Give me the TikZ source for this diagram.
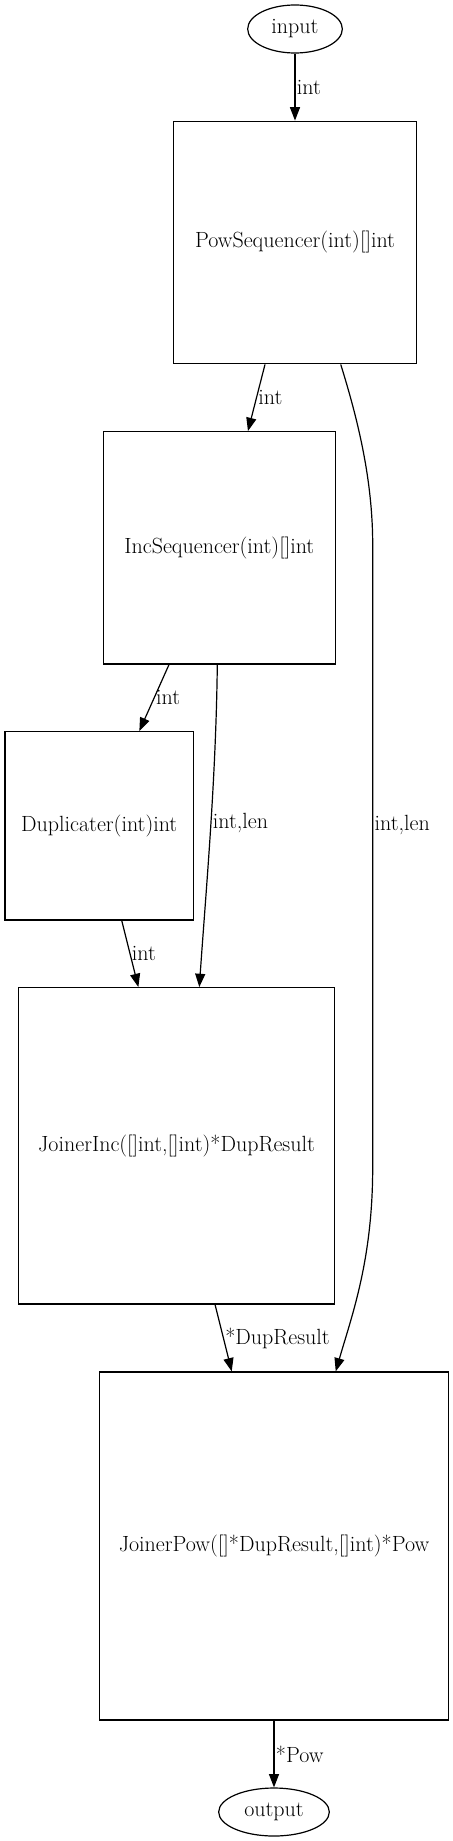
\documentclass[tikz,border=0pt]{standalone}
\usepackage{tikz}
\usetikzlibrary{arrows.meta,shapes.geometric,positioning}

\newcommand{\gvfont}{\fontsize{16.5}{19}\selectfont}

\begin{document}
\begin{tikzpicture}[x=0.75pt, y=-0.75pt,
    procbox/.style={draw, rectangle, line width=0.9pt, inner sep=0pt, font=\gvfont},
    portell/.style={draw, ellipse, line width=0.9pt, inner sep=0pt, font=\gvfont},
    flow/.style={line width=0.9pt, -{Triangle[length=10pt, width=7.5pt]}},
    flowlbl/.style={font=\gvfont, inner sep=1pt}]

\useasboundingbox (0,0) rectangle (453,1841);

% --- ports ----------------------------------------------------------------
\node[portell, minimum width=71pt, minimum height=36pt] (input) at (295,29) {input};
\node[portell, minimum width=83pt, minimum height=36pt] (output) at (274,1812) {output};

% --- stages ---------------------------------------------------------------
\node[procbox, minimum width=182pt, minimum height=182pt] (powseq) at (295,242.5)
  {PowSequencer(int)[]int};
\node[procbox, minimum width=174pt, minimum height=174.2pt] (incseq) at (219.3,547.8)
  {IncSequencer(int)[]int};
\node[procbox, minimum width=141.2pt, minimum height=141.2pt] (dup) at (99.2,825.8)
  {Duplicater(int)int};
\node[procbox, minimum width=237.2pt, minimum height=237.2pt] (joininc) at (176.5,1145.8)
  {JoinerInc([]int,[]int)*DupResult};
\node[procbox, minimum width=261.5pt, minimum height=261pt] (joinpow) at (274,1546)
  {JoinerPow([]*DupResult,[]int)*Pow};

% --- straight hops ----------------------------------------------------------
\draw[flow] (input) -- node[flowlbl, right, midway] {int} (powseq);
\draw[flow] ([xshift=-22.5pt]powseq.south) -- node[flowlbl, right, midway] {int}
  ([xshift=21.5pt]incseq.north);
\draw[flow] ([xshift=-37.7pt]incseq.south) -- node[flowlbl, right, midway] {int}
  ([xshift=30.1pt]dup.north);
\draw[flow] ([xshift=16.9pt]dup.south) -- node[flowlbl, right, midway] {int}
  ([xshift=-28.6pt]joininc.north);
\draw[flow] ([xshift=28.9pt]joininc.south) -- node[flowlbl, right, midway] {*DupResult}
  ([xshift=-31.7pt]joinpow.north);
\draw[flow] (joinpow) -- node[flowlbl, right, midway] {*Pow} (output);

% --- the two long bypasses ---------------------------------------------------
\draw[flow] ([xshift=-1.5pt]incseq.south)
  .. controls (216,780) and (206,890) .. node[flowlbl, right, pos=0.47] {int,len}
  ([xshift=17.1pt]joininc.north);
\draw[flow] ([xshift=34.3pt]powseq.south)
  .. controls (358,420) and (372.7,480) .. (372.7,545)
  -- node[flowlbl, right, pos=0.45] {int,len} (372.7,1167)
  .. controls (372.7,1260) and (352,1315) .. ([xshift=46.3pt]joinpow.north);

\end{tikzpicture}
\end{document}
